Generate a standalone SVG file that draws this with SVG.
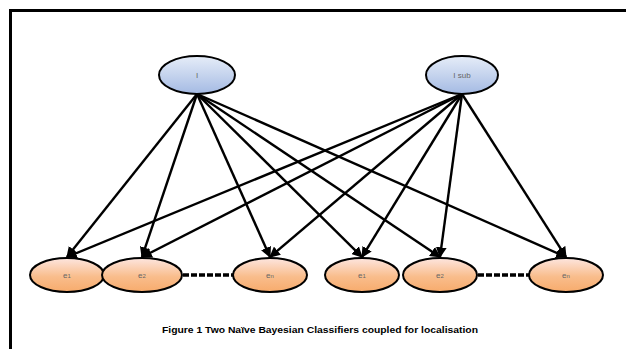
<svg xmlns="http://www.w3.org/2000/svg" width="626" height="349" viewBox="0 0 626 349">
<defs>
<linearGradient id="gb" x1="0" y1="0" x2="0" y2="1">
<stop offset="0" stop-color="#e6edf8"/>
<stop offset="1" stop-color="#a4bae3"/>
</linearGradient>
<linearGradient id="go" x1="0" y1="0" x2="0" y2="1">
<stop offset="0" stop-color="#fde6e0"/>
<stop offset="0.55" stop-color="#f9bd8c"/>
<stop offset="1" stop-color="#f7ab6c"/>
</linearGradient>
<marker id="ah" viewBox="0 0 10 10" refX="9" refY="5" markerWidth="4.5" markerHeight="4.5" orient="auto" markerUnits="strokeWidth">
<path d="M0,0 L10,5 L0,10 z" fill="#000"/>
</marker>
<style>
.top{fill:url(#gb);stroke:#000;stroke-width:2}
.bot{fill:url(#go);stroke:#000;stroke-width:2}
.lbl{font-family:"Liberation Sans",Arial,sans-serif;font-size:8px;fill:#666;text-anchor:middle}
.e line{stroke:#000;stroke-width:2.4;marker-end:url(#ah)}
.e line.dash{stroke-width:3.5;stroke-dasharray:6 2;marker-end:none}
</style>
</defs>
<rect width="626" height="349" fill="#fff"/>
<path d="M10.5,349 V10.5 H626" fill="none" stroke="#000" stroke-width="3"/>
<g id="connectors" class="e">
<line x1="197" y1="94" x2="67" y2="257"/>
<line x1="197" y1="94" x2="142" y2="257"/>
<line x1="197" y1="94" x2="270" y2="257"/>
<line x1="197" y1="94" x2="362" y2="257"/>
<line x1="197" y1="94" x2="440" y2="257"/>
<line x1="197" y1="94" x2="566" y2="257"/>
<line x1="462" y1="94" x2="67" y2="257"/>
<line x1="462" y1="94" x2="142" y2="257"/>
<line x1="462" y1="94" x2="270" y2="257"/>
<line x1="462" y1="94" x2="362" y2="257"/>
<line x1="462" y1="94" x2="440" y2="257"/>
<line x1="462" y1="94" x2="566" y2="257"/>
<line class="dash" x1="183" y1="275" x2="233" y2="275"/>
<line class="dash" x1="478" y1="275" x2="529" y2="275"/>
</g>
<g id="nI"><ellipse class="top" cx="197" cy="75" rx="38" ry="19"/><text class="lbl" x="197" y="78">I</text></g>
<g id="nIsub"><ellipse class="top" cx="462" cy="75" rx="36" ry="19"/><text class="lbl" x="462" y="78">I sub</text></g>
<g id="e1a"><ellipse class="bot" cx="67" cy="275" rx="37" ry="17"/><text class="lbl" x="67" y="278">e<tspan font-size="6">1</tspan></text></g>
<g id="e2a"><ellipse class="bot" cx="142" cy="275" rx="40" ry="17"/><text class="lbl" x="142" y="278">e<tspan font-size="6">2</tspan></text></g>
<g id="ena"><ellipse class="bot" cx="270" cy="275" rx="37" ry="17"/><text class="lbl" x="270" y="278">e<tspan font-size="6">n</tspan></text></g>
<g id="e1b"><ellipse class="bot" cx="362" cy="275" rx="37" ry="17"/><text class="lbl" x="362" y="278">e<tspan font-size="6">1</tspan></text></g>
<g id="e2b"><ellipse class="bot" cx="440" cy="275" rx="37" ry="17"/><text class="lbl" x="440" y="278">e<tspan font-size="6">2</tspan></text></g>
<g id="enb"><ellipse class="bot" cx="566" cy="275" rx="37" ry="17"/><text class="lbl" x="566" y="278">e<tspan font-size="6">n</tspan></text></g>
<text x="320" y="333" font-family="'Liberation Sans',Arial,sans-serif" font-size="9" font-weight="bold" text-anchor="middle" textLength="316" lengthAdjust="spacingAndGlyphs">Figure 1 Two Naïve Bayesian Classifiers coupled for localisation</text>
</svg>
